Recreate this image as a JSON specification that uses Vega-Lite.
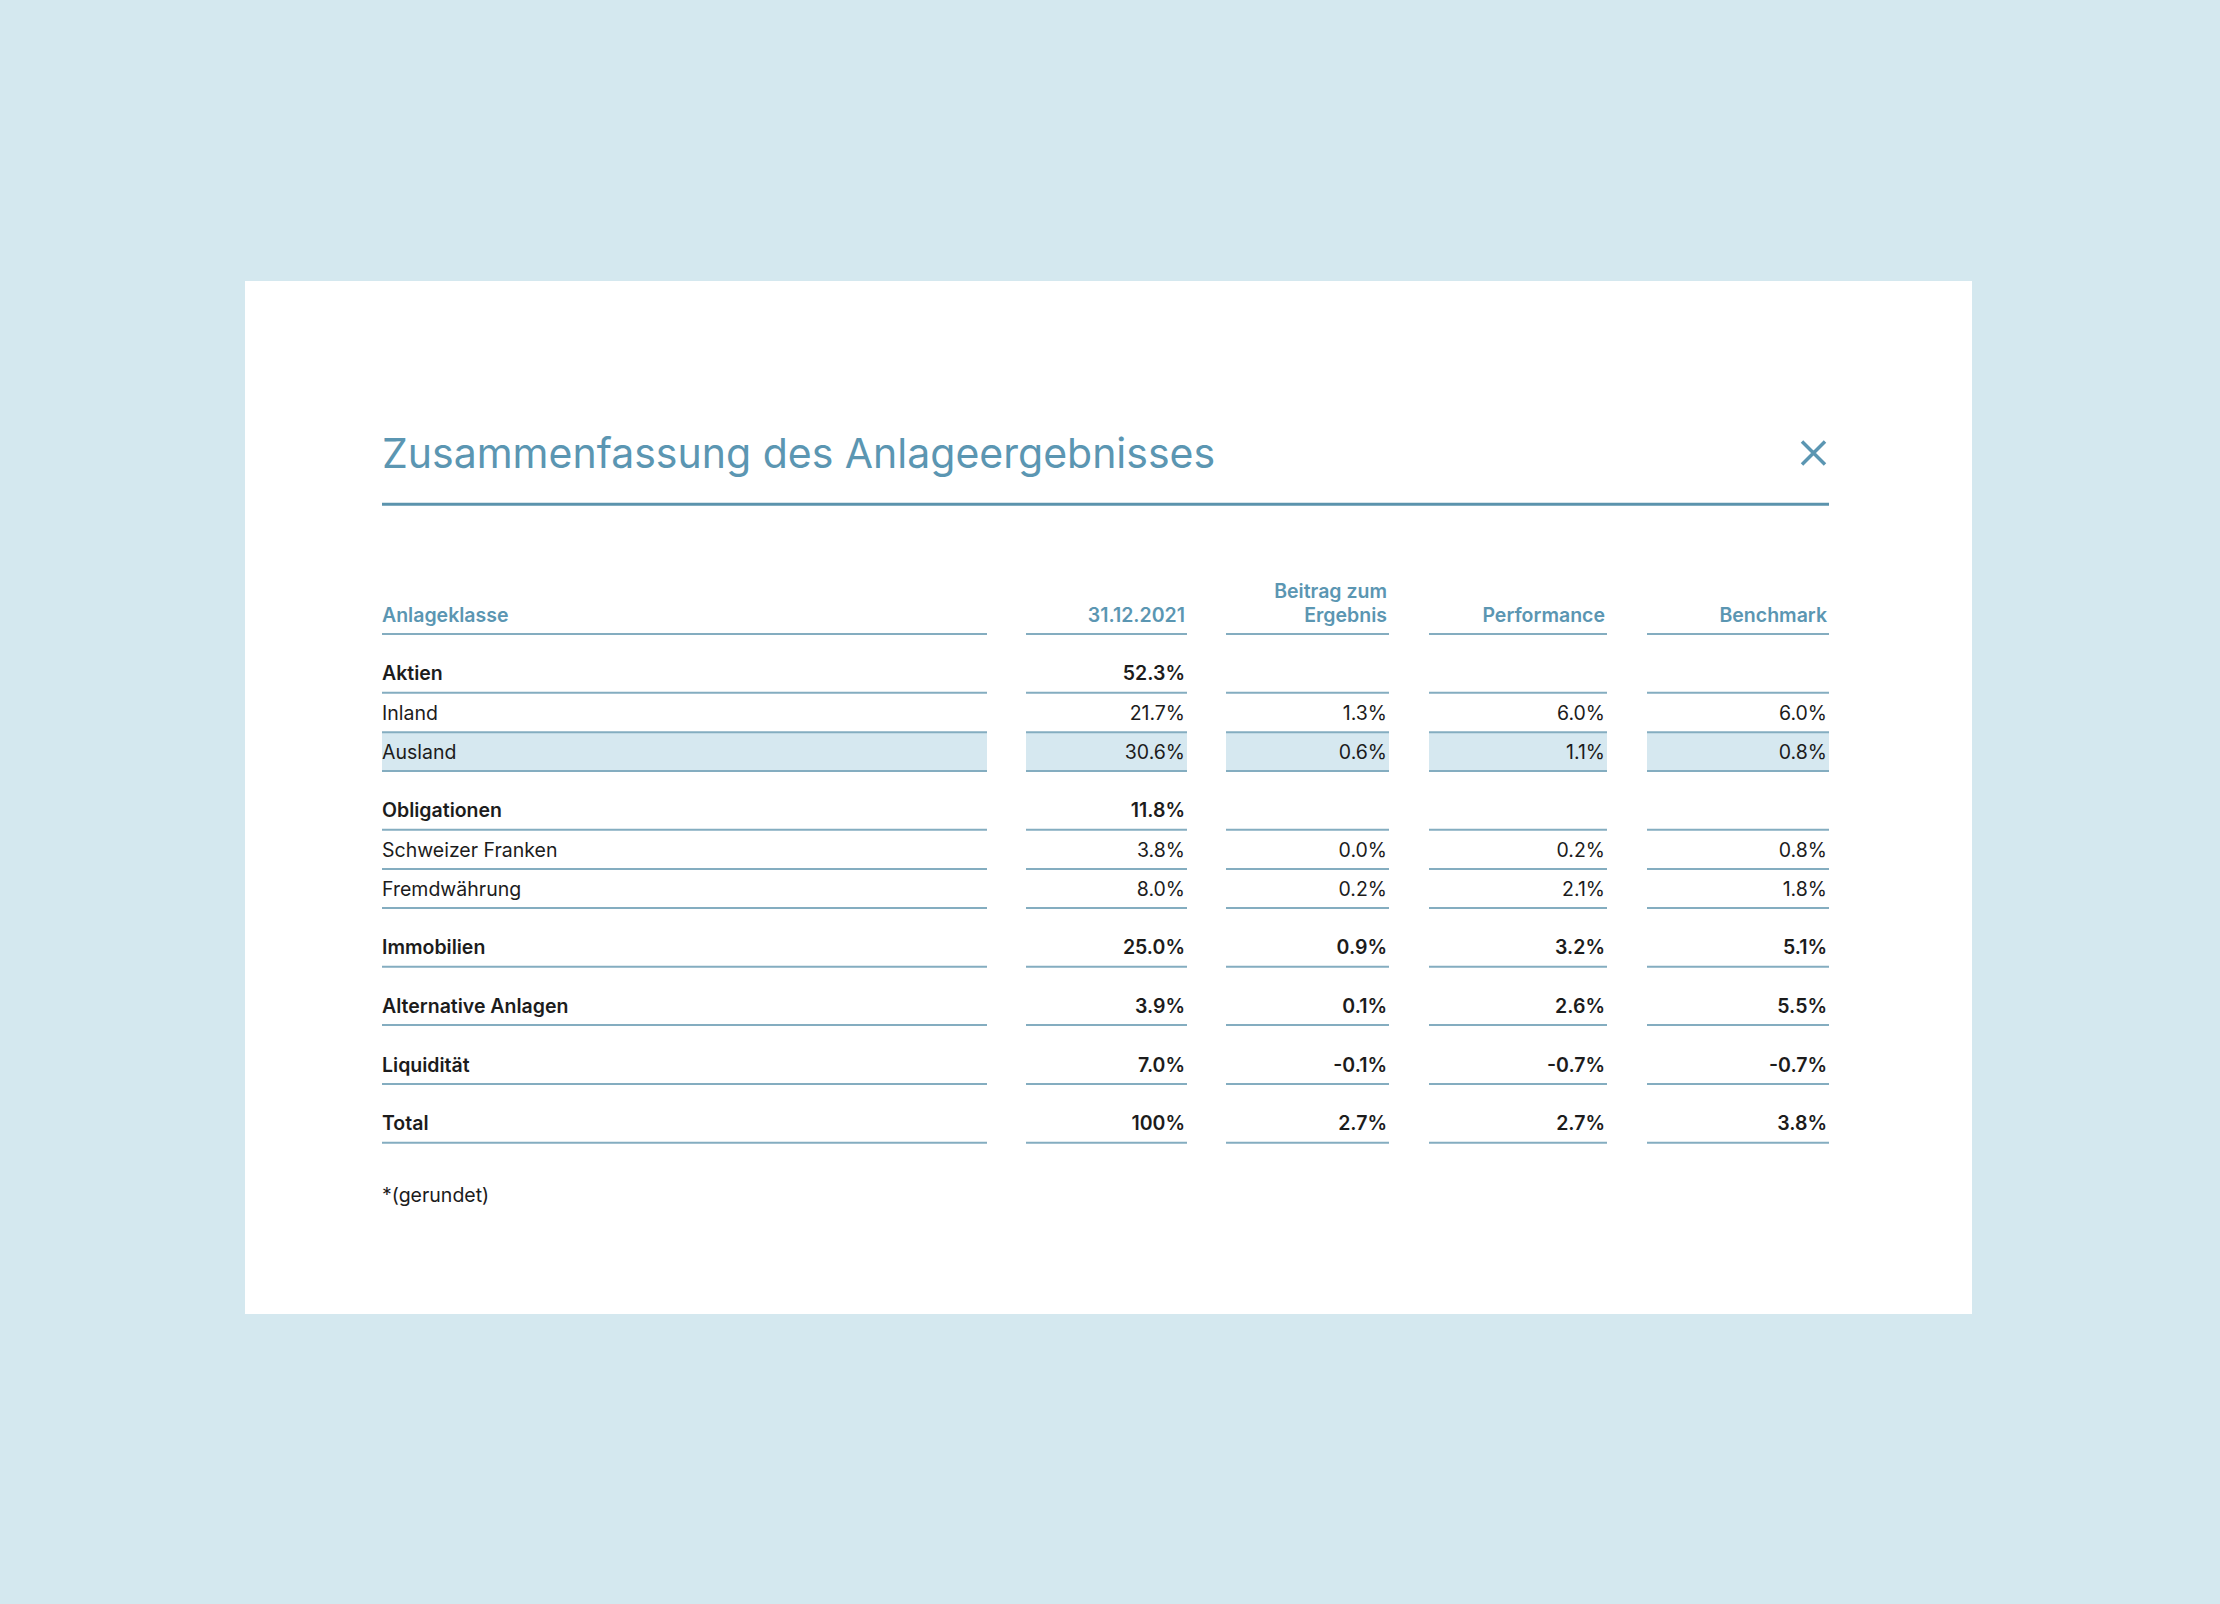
{
  "$schema": "https://vega.github.io/schema/vega-lite/v6.json",
  "width": 1727,
  "height": 1033,
  "autosize": {"type": "none"},
  "padding": {"left": 245, "top": 281, "right": 248, "bottom": 290},
  "background": "#d4e8ef",
  "config": {"view": {"fill": "white", "stroke": null}, "font": "Inter", "text": {"font": "Inter"}},
  "datasets": {
    "zeilen": [
      {"Zeile": 0, "Anlageklasse": "Anlageklasse", "Ebene": "Kopf", "Hervorgehoben": false},
      {"Zeile": 1, "Anlageklasse": "Aktien", "Ebene": "Gruppe", "Hervorgehoben": false},
      {"Zeile": 2, "Anlageklasse": "Inland", "Ebene": "Position", "Hervorgehoben": false},
      {"Zeile": 3, "Anlageklasse": "Ausland", "Ebene": "Position", "Hervorgehoben": true},
      {"Zeile": 4, "Anlageklasse": "Obligationen", "Ebene": "Gruppe", "Hervorgehoben": false},
      {"Zeile": 5, "Anlageklasse": "Schweizer Franken", "Ebene": "Position", "Hervorgehoben": false},
      {"Zeile": 6, "Anlageklasse": "Fremdwährung", "Ebene": "Position", "Hervorgehoben": false},
      {"Zeile": 7, "Anlageklasse": "Immobilien", "Ebene": "Gruppe", "Hervorgehoben": false},
      {"Zeile": 8, "Anlageklasse": "Alternative Anlagen", "Ebene": "Gruppe", "Hervorgehoben": false},
      {"Zeile": 9, "Anlageklasse": "Liquidität", "Ebene": "Gruppe", "Hervorgehoben": false},
      {"Zeile": 10, "Anlageklasse": "Total", "Ebene": "Total", "Hervorgehoben": false}
    ],
    "kopf": [
      {"Spalte": "31.12.2021", "Beschriftung": ["31.12.2021"]},
      {"Spalte": "Beitrag zum Ergebnis", "Beschriftung": ["Beitrag zum", "Ergebnis"]},
      {"Spalte": "Performance", "Beschriftung": ["Performance"]},
      {"Spalte": "Benchmark", "Beschriftung": ["Benchmark"]}
    ],
    "zellen": [
      {"Zeile": 1, "Anlageklasse": "Aktien", "Ebene": "Gruppe", "Spalte": "31.12.2021", "Wert": "52.3%"},
      {"Zeile": 2, "Anlageklasse": "Inland", "Ebene": "Position", "Spalte": "31.12.2021", "Wert": "21.7%"},
      {"Zeile": 2, "Anlageklasse": "Inland", "Ebene": "Position", "Spalte": "Beitrag zum Ergebnis", "Wert": "1.3%"},
      {"Zeile": 2, "Anlageklasse": "Inland", "Ebene": "Position", "Spalte": "Performance", "Wert": "6.0%"},
      {"Zeile": 2, "Anlageklasse": "Inland", "Ebene": "Position", "Spalte": "Benchmark", "Wert": "6.0%"},
      {"Zeile": 3, "Anlageklasse": "Ausland", "Ebene": "Position", "Spalte": "31.12.2021", "Wert": "30.6%"},
      {"Zeile": 3, "Anlageklasse": "Ausland", "Ebene": "Position", "Spalte": "Beitrag zum Ergebnis", "Wert": "0.6%"},
      {"Zeile": 3, "Anlageklasse": "Ausland", "Ebene": "Position", "Spalte": "Performance", "Wert": "1.1%"},
      {"Zeile": 3, "Anlageklasse": "Ausland", "Ebene": "Position", "Spalte": "Benchmark", "Wert": "0.8%"},
      {"Zeile": 4, "Anlageklasse": "Obligationen", "Ebene": "Gruppe", "Spalte": "31.12.2021", "Wert": "11.8%"},
      {"Zeile": 5, "Anlageklasse": "Schweizer Franken", "Ebene": "Position", "Spalte": "31.12.2021", "Wert": "3.8%"},
      {"Zeile": 5, "Anlageklasse": "Schweizer Franken", "Ebene": "Position", "Spalte": "Beitrag zum Ergebnis", "Wert": "0.0%"},
      {"Zeile": 5, "Anlageklasse": "Schweizer Franken", "Ebene": "Position", "Spalte": "Performance", "Wert": "0.2%"},
      {"Zeile": 5, "Anlageklasse": "Schweizer Franken", "Ebene": "Position", "Spalte": "Benchmark", "Wert": "0.8%"},
      {"Zeile": 6, "Anlageklasse": "Fremdwährung", "Ebene": "Position", "Spalte": "31.12.2021", "Wert": "8.0%"},
      {"Zeile": 6, "Anlageklasse": "Fremdwährung", "Ebene": "Position", "Spalte": "Beitrag zum Ergebnis", "Wert": "0.2%"},
      {"Zeile": 6, "Anlageklasse": "Fremdwährung", "Ebene": "Position", "Spalte": "Performance", "Wert": "2.1%"},
      {"Zeile": 6, "Anlageklasse": "Fremdwährung", "Ebene": "Position", "Spalte": "Benchmark", "Wert": "1.8%"},
      {"Zeile": 7, "Anlageklasse": "Immobilien", "Ebene": "Gruppe", "Spalte": "31.12.2021", "Wert": "25.0%"},
      {"Zeile": 7, "Anlageklasse": "Immobilien", "Ebene": "Gruppe", "Spalte": "Beitrag zum Ergebnis", "Wert": "0.9%"},
      {"Zeile": 7, "Anlageklasse": "Immobilien", "Ebene": "Gruppe", "Spalte": "Performance", "Wert": "3.2%"},
      {"Zeile": 7, "Anlageklasse": "Immobilien", "Ebene": "Gruppe", "Spalte": "Benchmark", "Wert": "5.1%"},
      {"Zeile": 8, "Anlageklasse": "Alternative Anlagen", "Ebene": "Gruppe", "Spalte": "31.12.2021", "Wert": "3.9%"},
      {"Zeile": 8, "Anlageklasse": "Alternative Anlagen", "Ebene": "Gruppe", "Spalte": "Beitrag zum Ergebnis", "Wert": "0.1%"},
      {"Zeile": 8, "Anlageklasse": "Alternative Anlagen", "Ebene": "Gruppe", "Spalte": "Performance", "Wert": "2.6%"},
      {"Zeile": 8, "Anlageklasse": "Alternative Anlagen", "Ebene": "Gruppe", "Spalte": "Benchmark", "Wert": "5.5%"},
      {"Zeile": 9, "Anlageklasse": "Liquidität", "Ebene": "Gruppe", "Spalte": "31.12.2021", "Wert": "7.0%"},
      {"Zeile": 9, "Anlageklasse": "Liquidität", "Ebene": "Gruppe", "Spalte": "Beitrag zum Ergebnis", "Wert": "-0.1%"},
      {"Zeile": 9, "Anlageklasse": "Liquidität", "Ebene": "Gruppe", "Spalte": "Performance", "Wert": "-0.7%"},
      {"Zeile": 9, "Anlageklasse": "Liquidität", "Ebene": "Gruppe", "Spalte": "Benchmark", "Wert": "-0.7%"},
      {"Zeile": 10, "Anlageklasse": "Total", "Ebene": "Total", "Spalte": "31.12.2021", "Wert": "100%"},
      {"Zeile": 10, "Anlageklasse": "Total", "Ebene": "Total", "Spalte": "Beitrag zum Ergebnis", "Wert": "2.7%"},
      {"Zeile": 10, "Anlageklasse": "Total", "Ebene": "Total", "Spalte": "Performance", "Wert": "2.7%"},
      {"Zeile": 10, "Anlageklasse": "Total", "Ebene": "Total", "Spalte": "Benchmark", "Wert": "3.8%"}
    ]
  },
  "layer": [
    {"data": {"name": "zeilen"}, "transform": [{"filter": "datum.Hervorgehoben"}],
     "mark": {"type": "rule", "color": "#d6e8f0", "strokeWidth": 38, "yOffset": -19.3},
     "encoding": {
       "x": {"datum": 0.5, "type": "quantitative", "scale": {"type": "linear", "domain": [0.5,1,1.5,2,2.5,3,3.5,4,4.5,5], "range": [137,742,781,942,981,1144,1184,1362,1402,1584], "nice": false, "zero": false}, "axis": null},
       "x2": {"datum": 1},
       "y": {"field": "Zeile", "type": "quantitative", "scale": {"type": "linear", "domain": [-2,-1,0,1,2,3,4,5,6,7,8,9,10,11], "range": [187,223.3,353,411.7,451.3,490,548.7,588,627,685.7,744,803,861.7,921], "nice": false, "zero": false}, "axis": null}}},
    {"data": {"name": "zeilen"}, "transform": [{"filter": "datum.Hervorgehoben"}],
     "mark": {"type": "rule", "color": "#d6e8f0", "strokeWidth": 38, "yOffset": -19.3},
     "encoding": {
       "x": {"datum": 1.5, "type": "quantitative", "scale": {"type": "linear", "domain": [0.5,1,1.5,2,2.5,3,3.5,4,4.5,5], "range": [137,742,781,942,981,1144,1184,1362,1402,1584], "nice": false, "zero": false}, "axis": null},
       "x2": {"datum": 2},
       "y": {"field": "Zeile", "type": "quantitative", "scale": {"type": "linear", "domain": [-2,-1,0,1,2,3,4,5,6,7,8,9,10,11], "range": [187,223.3,353,411.7,451.3,490,548.7,588,627,685.7,744,803,861.7,921], "nice": false, "zero": false}, "axis": null}}},
    {"data": {"name": "zeilen"}, "transform": [{"filter": "datum.Hervorgehoben"}],
     "mark": {"type": "rule", "color": "#d6e8f0", "strokeWidth": 38, "yOffset": -19.3},
     "encoding": {
       "x": {"datum": 2.5, "type": "quantitative", "scale": {"type": "linear", "domain": [0.5,1,1.5,2,2.5,3,3.5,4,4.5,5], "range": [137,742,781,942,981,1144,1184,1362,1402,1584], "nice": false, "zero": false}, "axis": null},
       "x2": {"datum": 3},
       "y": {"field": "Zeile", "type": "quantitative", "scale": {"type": "linear", "domain": [-2,-1,0,1,2,3,4,5,6,7,8,9,10,11], "range": [187,223.3,353,411.7,451.3,490,548.7,588,627,685.7,744,803,861.7,921], "nice": false, "zero": false}, "axis": null}}},
    {"data": {"name": "zeilen"}, "transform": [{"filter": "datum.Hervorgehoben"}],
     "mark": {"type": "rule", "color": "#d6e8f0", "strokeWidth": 38, "yOffset": -19.3},
     "encoding": {
       "x": {"datum": 3.5, "type": "quantitative", "scale": {"type": "linear", "domain": [0.5,1,1.5,2,2.5,3,3.5,4,4.5,5], "range": [137,742,781,942,981,1144,1184,1362,1402,1584], "nice": false, "zero": false}, "axis": null},
       "x2": {"datum": 4},
       "y": {"field": "Zeile", "type": "quantitative", "scale": {"type": "linear", "domain": [-2,-1,0,1,2,3,4,5,6,7,8,9,10,11], "range": [187,223.3,353,411.7,451.3,490,548.7,588,627,685.7,744,803,861.7,921], "nice": false, "zero": false}, "axis": null}}},
    {"data": {"name": "zeilen"}, "transform": [{"filter": "datum.Hervorgehoben"}],
     "mark": {"type": "rule", "color": "#d6e8f0", "strokeWidth": 38, "yOffset": -19.3},
     "encoding": {
       "x": {"datum": 4.5, "type": "quantitative", "scale": {"type": "linear", "domain": [0.5,1,1.5,2,2.5,3,3.5,4,4.5,5], "range": [137,742,781,942,981,1144,1184,1362,1402,1584], "nice": false, "zero": false}, "axis": null},
       "x2": {"datum": 5},
       "y": {"field": "Zeile", "type": "quantitative", "scale": {"type": "linear", "domain": [-2,-1,0,1,2,3,4,5,6,7,8,9,10,11], "range": [187,223.3,353,411.7,451.3,490,548.7,588,627,685.7,744,803,861.7,921], "nice": false, "zero": false}, "axis": null}}},

    {"data": {"name": "zeilen"},
     "mark": {"type": "rule", "color": "#84adc0", "strokeWidth": 2},
     "encoding": {
       "x": {"datum": 0.5, "type": "quantitative", "scale": {"type": "linear", "domain": [0.5,1,1.5,2,2.5,3,3.5,4,4.5,5], "range": [137,742,781,942,981,1144,1184,1362,1402,1584], "nice": false, "zero": false}, "axis": null},
       "x2": {"datum": 1},
       "y": {"field": "Zeile", "type": "quantitative", "scale": {"type": "linear", "domain": [-2,-1,0,1,2,3,4,5,6,7,8,9,10,11], "range": [187,223.3,353,411.7,451.3,490,548.7,588,627,685.7,744,803,861.7,921], "nice": false, "zero": false}, "axis": null}}},
    {"data": {"name": "zeilen"},
     "mark": {"type": "rule", "color": "#84adc0", "strokeWidth": 2},
     "encoding": {
       "x": {"datum": 1.5, "type": "quantitative", "scale": {"type": "linear", "domain": [0.5,1,1.5,2,2.5,3,3.5,4,4.5,5], "range": [137,742,781,942,981,1144,1184,1362,1402,1584], "nice": false, "zero": false}, "axis": null},
       "x2": {"datum": 2},
       "y": {"field": "Zeile", "type": "quantitative", "scale": {"type": "linear", "domain": [-2,-1,0,1,2,3,4,5,6,7,8,9,10,11], "range": [187,223.3,353,411.7,451.3,490,548.7,588,627,685.7,744,803,861.7,921], "nice": false, "zero": false}, "axis": null}}},
    {"data": {"name": "zeilen"},
     "mark": {"type": "rule", "color": "#84adc0", "strokeWidth": 2},
     "encoding": {
       "x": {"datum": 2.5, "type": "quantitative", "scale": {"type": "linear", "domain": [0.5,1,1.5,2,2.5,3,3.5,4,4.5,5], "range": [137,742,781,942,981,1144,1184,1362,1402,1584], "nice": false, "zero": false}, "axis": null},
       "x2": {"datum": 3},
       "y": {"field": "Zeile", "type": "quantitative", "scale": {"type": "linear", "domain": [-2,-1,0,1,2,3,4,5,6,7,8,9,10,11], "range": [187,223.3,353,411.7,451.3,490,548.7,588,627,685.7,744,803,861.7,921], "nice": false, "zero": false}, "axis": null}}},
    {"data": {"name": "zeilen"},
     "mark": {"type": "rule", "color": "#84adc0", "strokeWidth": 2},
     "encoding": {
       "x": {"datum": 3.5, "type": "quantitative", "scale": {"type": "linear", "domain": [0.5,1,1.5,2,2.5,3,3.5,4,4.5,5], "range": [137,742,781,942,981,1144,1184,1362,1402,1584], "nice": false, "zero": false}, "axis": null},
       "x2": {"datum": 4},
       "y": {"field": "Zeile", "type": "quantitative", "scale": {"type": "linear", "domain": [-2,-1,0,1,2,3,4,5,6,7,8,9,10,11], "range": [187,223.3,353,411.7,451.3,490,548.7,588,627,685.7,744,803,861.7,921], "nice": false, "zero": false}, "axis": null}}},
    {"data": {"name": "zeilen"},
     "mark": {"type": "rule", "color": "#84adc0", "strokeWidth": 2},
     "encoding": {
       "x": {"datum": 4.5, "type": "quantitative", "scale": {"type": "linear", "domain": [0.5,1,1.5,2,2.5,3,3.5,4,4.5,5], "range": [137,742,781,942,981,1144,1184,1362,1402,1584], "nice": false, "zero": false}, "axis": null},
       "x2": {"datum": 5},
       "y": {"field": "Zeile", "type": "quantitative", "scale": {"type": "linear", "domain": [-2,-1,0,1,2,3,4,5,6,7,8,9,10,11], "range": [187,223.3,353,411.7,451.3,490,548.7,588,627,685.7,744,803,861.7,921], "nice": false, "zero": false}, "axis": null}}},

    {"data": {"name": "zeilen"}, "transform": [{"filter": "datum.Ebene === 'Kopf'"}],
     "mark": {"type": "text", "align": "left", "baseline": "alphabetic", "dy": -12.5, "fontSize": 19.5, "fontWeight": 600, "color": "#5b96b2"},
     "encoding": {
       "text": {"field": "Anlageklasse"},
       "x": {"datum": 0.5, "type": "quantitative", "scale": {"type": "linear", "domain": [0.5,1,1.5,2,2.5,3,3.5,4,4.5,5], "range": [137,742,781,942,981,1144,1184,1362,1402,1584], "nice": false, "zero": false}, "axis": null},
       "y": {"field": "Zeile", "type": "quantitative", "scale": {"type": "linear", "domain": [-2,-1,0,1,2,3,4,5,6,7,8,9,10,11], "range": [187,223.3,353,411.7,451.3,490,548.7,588,627,685.7,744,803,861.7,921], "nice": false, "zero": false}, "axis": null}}},
    {"data": {"name": "zeilen"}, "transform": [{"filter": "datum.Ebene !== 'Kopf'"}],
     "mark": {"type": "text", "align": "left", "baseline": "alphabetic", "dy": -12.5, "fontSize": 19.5, "fontWeight": {"expr": "datum.Ebene === 'Position' ? 400 : 600"}, "color": "#1c1c1c"},
     "encoding": {
       "text": {"field": "Anlageklasse"},
       "x": {"datum": 0.5, "type": "quantitative", "scale": {"type": "linear", "domain": [0.5,1,1.5,2,2.5,3,3.5,4,4.5,5], "range": [137,742,781,942,981,1144,1184,1362,1402,1584], "nice": false, "zero": false}, "axis": null},
       "y": {"field": "Zeile", "type": "quantitative", "scale": {"type": "linear", "domain": [-2,-1,0,1,2,3,4,5,6,7,8,9,10,11], "range": [187,223.3,353,411.7,451.3,490,548.7,588,627,685.7,744,803,861.7,921], "nice": false, "zero": false}, "axis": null}}},

    {"data": {"name": "zellen"}, "transform": [{"filter": "datum.Spalte === '31.12.2021'"}],
     "mark": {"type": "text", "align": "right", "baseline": "alphabetic", "dx": -2, "dy": -12.5, "fontSize": 19.5, "fontWeight": {"expr": "datum.Ebene === 'Position' ? 400 : 600"}, "color": "#1c1c1c"},
     "encoding": {
       "text": {"field": "Wert"},
       "x": {"datum": 2, "type": "quantitative", "scale": {"type": "linear", "domain": [0.5,1,1.5,2,2.5,3,3.5,4,4.5,5], "range": [137,742,781,942,981,1144,1184,1362,1402,1584], "nice": false, "zero": false}, "axis": null},
       "y": {"field": "Zeile", "type": "quantitative", "scale": {"type": "linear", "domain": [-2,-1,0,1,2,3,4,5,6,7,8,9,10,11], "range": [187,223.3,353,411.7,451.3,490,548.7,588,627,685.7,744,803,861.7,921], "nice": false, "zero": false}, "axis": null}}},
    {"data": {"name": "zellen"}, "transform": [{"filter": "datum.Spalte === 'Beitrag zum Ergebnis'"}],
     "mark": {"type": "text", "align": "right", "baseline": "alphabetic", "dx": -2, "dy": -12.5, "fontSize": 19.5, "fontWeight": {"expr": "datum.Ebene === 'Position' ? 400 : 600"}, "color": "#1c1c1c"},
     "encoding": {
       "text": {"field": "Wert"},
       "x": {"datum": 3, "type": "quantitative", "scale": {"type": "linear", "domain": [0.5,1,1.5,2,2.5,3,3.5,4,4.5,5], "range": [137,742,781,942,981,1144,1184,1362,1402,1584], "nice": false, "zero": false}, "axis": null},
       "y": {"field": "Zeile", "type": "quantitative", "scale": {"type": "linear", "domain": [-2,-1,0,1,2,3,4,5,6,7,8,9,10,11], "range": [187,223.3,353,411.7,451.3,490,548.7,588,627,685.7,744,803,861.7,921], "nice": false, "zero": false}, "axis": null}}},
    {"data": {"name": "zellen"}, "transform": [{"filter": "datum.Spalte === 'Performance'"}],
     "mark": {"type": "text", "align": "right", "baseline": "alphabetic", "dx": -2, "dy": -12.5, "fontSize": 19.5, "fontWeight": {"expr": "datum.Ebene === 'Position' ? 400 : 600"}, "color": "#1c1c1c"},
     "encoding": {
       "text": {"field": "Wert"},
       "x": {"datum": 4, "type": "quantitative", "scale": {"type": "linear", "domain": [0.5,1,1.5,2,2.5,3,3.5,4,4.5,5], "range": [137,742,781,942,981,1144,1184,1362,1402,1584], "nice": false, "zero": false}, "axis": null},
       "y": {"field": "Zeile", "type": "quantitative", "scale": {"type": "linear", "domain": [-2,-1,0,1,2,3,4,5,6,7,8,9,10,11], "range": [187,223.3,353,411.7,451.3,490,548.7,588,627,685.7,744,803,861.7,921], "nice": false, "zero": false}, "axis": null}}},
    {"data": {"name": "zellen"}, "transform": [{"filter": "datum.Spalte === 'Benchmark'"}],
     "mark": {"type": "text", "align": "right", "baseline": "alphabetic", "dx": -2, "dy": -12.5, "fontSize": 19.5, "fontWeight": {"expr": "datum.Ebene === 'Position' ? 400 : 600"}, "color": "#1c1c1c"},
     "encoding": {
       "text": {"field": "Wert"},
       "x": {"datum": 5, "type": "quantitative", "scale": {"type": "linear", "domain": [0.5,1,1.5,2,2.5,3,3.5,4,4.5,5], "range": [137,742,781,942,981,1144,1184,1362,1402,1584], "nice": false, "zero": false}, "axis": null},
       "y": {"field": "Zeile", "type": "quantitative", "scale": {"type": "linear", "domain": [-2,-1,0,1,2,3,4,5,6,7,8,9,10,11], "range": [187,223.3,353,411.7,451.3,490,548.7,588,627,685.7,744,803,861.7,921], "nice": false, "zero": false}, "axis": null}}},

    {"data": {"name": "kopf"}, "transform": [{"filter": "datum.Spalte === '31.12.2021'"}],
     "mark": {"type": "text", "align": "right", "baseline": "alphabetic", "dx": -2, "dy": -12.5, "fontSize": 19.5, "fontWeight": 600, "lineHeight": 24, "color": "#5b96b2"},
     "encoding": {
       "text": {"field": "Beschriftung"},
       "x": {"datum": 2, "type": "quantitative", "scale": {"type": "linear", "domain": [0.5,1,1.5,2,2.5,3,3.5,4,4.5,5], "range": [137,742,781,942,981,1144,1184,1362,1402,1584], "nice": false, "zero": false}, "axis": null},
       "y": {"datum": 0, "type": "quantitative", "scale": {"type": "linear", "domain": [-2,-1,0,1,2,3,4,5,6,7,8,9,10,11], "range": [187,223.3,353,411.7,451.3,490,548.7,588,627,685.7,744,803,861.7,921], "nice": false, "zero": false}, "axis": null}}},
    {"data": {"name": "kopf"}, "transform": [{"filter": "datum.Spalte === 'Beitrag zum Ergebnis'"}],
     "mark": {"type": "text", "align": "right", "baseline": "alphabetic", "dx": -2, "dy": -36.5, "fontSize": 19.5, "fontWeight": 600, "lineHeight": 24, "color": "#5b96b2"},
     "encoding": {
       "text": {"field": "Beschriftung"},
       "x": {"datum": 3, "type": "quantitative", "scale": {"type": "linear", "domain": [0.5,1,1.5,2,2.5,3,3.5,4,4.5,5], "range": [137,742,781,942,981,1144,1184,1362,1402,1584], "nice": false, "zero": false}, "axis": null},
       "y": {"datum": 0, "type": "quantitative", "scale": {"type": "linear", "domain": [-2,-1,0,1,2,3,4,5,6,7,8,9,10,11], "range": [187,223.3,353,411.7,451.3,490,548.7,588,627,685.7,744,803,861.7,921], "nice": false, "zero": false}, "axis": null}}},
    {"data": {"name": "kopf"}, "transform": [{"filter": "datum.Spalte === 'Performance'"}],
     "mark": {"type": "text", "align": "right", "baseline": "alphabetic", "dx": -2, "dy": -12.5, "fontSize": 19.5, "fontWeight": 600, "lineHeight": 24, "color": "#5b96b2"},
     "encoding": {
       "text": {"field": "Beschriftung"},
       "x": {"datum": 4, "type": "quantitative", "scale": {"type": "linear", "domain": [0.5,1,1.5,2,2.5,3,3.5,4,4.5,5], "range": [137,742,781,942,981,1144,1184,1362,1402,1584], "nice": false, "zero": false}, "axis": null},
       "y": {"datum": 0, "type": "quantitative", "scale": {"type": "linear", "domain": [-2,-1,0,1,2,3,4,5,6,7,8,9,10,11], "range": [187,223.3,353,411.7,451.3,490,548.7,588,627,685.7,744,803,861.7,921], "nice": false, "zero": false}, "axis": null}}},
    {"data": {"name": "kopf"}, "transform": [{"filter": "datum.Spalte === 'Benchmark'"}],
     "mark": {"type": "text", "align": "right", "baseline": "alphabetic", "dx": -2, "dy": -12.5, "fontSize": 19.5, "fontWeight": 600, "lineHeight": 24, "color": "#5b96b2"},
     "encoding": {
       "text": {"field": "Beschriftung"},
       "x": {"datum": 5, "type": "quantitative", "scale": {"type": "linear", "domain": [0.5,1,1.5,2,2.5,3,3.5,4,4.5,5], "range": [137,742,781,942,981,1144,1184,1362,1402,1584], "nice": false, "zero": false}, "axis": null},
       "y": {"datum": 0, "type": "quantitative", "scale": {"type": "linear", "domain": [-2,-1,0,1,2,3,4,5,6,7,8,9,10,11], "range": [187,223.3,353,411.7,451.3,490,548.7,588,627,685.7,744,803,861.7,921], "nice": false, "zero": false}, "axis": null}}},

    {"data": {"values": [{"Titel": "Zusammenfassung des Anlageergebnisses"}]},
     "mark": {"type": "text", "align": "left", "baseline": "alphabetic", "fontSize": 41, "fontWeight": 400, "color": "#5b96b2"},
     "encoding": {
       "text": {"field": "Titel"},
       "x": {"datum": 0.5, "type": "quantitative", "scale": {"type": "linear", "domain": [0.5,1,1.5,2,2.5,3,3.5,4,4.5,5], "range": [137,742,781,942,981,1144,1184,1362,1402,1584], "nice": false, "zero": false}, "axis": null},
       "y": {"datum": -2, "type": "quantitative", "scale": {"type": "linear", "domain": [-2,-1,0,1,2,3,4,5,6,7,8,9,10,11], "range": [187,223.3,353,411.7,451.3,490,548.7,588,627,685.7,744,803,861.7,921], "nice": false, "zero": false}, "axis": null}}},
    {"data": {"values": [{"Element": "Titellinie"}]},
     "mark": {"type": "rule", "color": "#5b93ad", "strokeWidth": 3},
     "encoding": {
       "x": {"datum": 0.5, "type": "quantitative", "scale": {"type": "linear", "domain": [0.5,1,1.5,2,2.5,3,3.5,4,4.5,5], "range": [137,742,781,942,981,1144,1184,1362,1402,1584], "nice": false, "zero": false}, "axis": null},
       "x2": {"datum": 5},
       "y": {"datum": -1, "type": "quantitative", "scale": {"type": "linear", "domain": [-2,-1,0,1,2,3,4,5,6,7,8,9,10,11], "range": [187,223.3,353,411.7,451.3,490,548.7,588,627,685.7,744,803,861.7,921], "nice": false, "zero": false}, "axis": null}}},
    {"data": {"values": [{"Element": "Schliessen"}]},
     "mark": {"type": "point", "shape": "M -1 -1 L 1 1 M 1 -1 L -1 1", "size": 529, "filled": false, "strokeWidth": 3.5, "color": "#5b96b2", "opacity": 1, "xOffset": -15.5, "yOffset": -15},
     "encoding": {
       "x": {"datum": 5, "type": "quantitative", "scale": {"type": "linear", "domain": [0.5,1,1.5,2,2.5,3,3.5,4,4.5,5], "range": [137,742,781,942,981,1144,1184,1362,1402,1584], "nice": false, "zero": false}, "axis": null},
       "y": {"datum": -2, "type": "quantitative", "scale": {"type": "linear", "domain": [-2,-1,0,1,2,3,4,5,6,7,8,9,10,11], "range": [187,223.3,353,411.7,451.3,490,548.7,588,627,685.7,744,803,861.7,921], "nice": false, "zero": false}, "axis": null}}},
    {"data": {"values": [{"Fussnote": "*(gerundet)"}]},
     "mark": {"type": "text", "align": "left", "baseline": "alphabetic", "fontSize": 19.5, "fontWeight": 400, "color": "#1c1c1c"},
     "encoding": {
       "text": {"field": "Fussnote"},
       "x": {"datum": 0.5, "type": "quantitative", "scale": {"type": "linear", "domain": [0.5,1,1.5,2,2.5,3,3.5,4,4.5,5], "range": [137,742,781,942,981,1144,1184,1362,1402,1584], "nice": false, "zero": false}, "axis": null},
       "y": {"datum": 11, "type": "quantitative", "scale": {"type": "linear", "domain": [-2,-1,0,1,2,3,4,5,6,7,8,9,10,11], "range": [187,223.3,353,411.7,451.3,490,548.7,588,627,685.7,744,803,861.7,921], "nice": false, "zero": false}, "axis": null}}}
  ]
}
